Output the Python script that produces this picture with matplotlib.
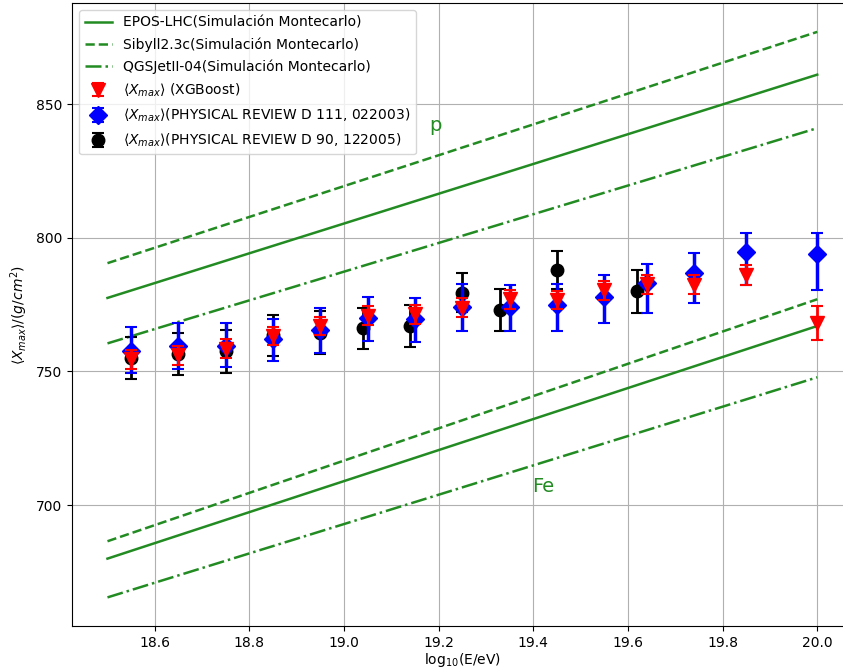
import matplotlib
matplotlib.use("Agg")
import matplotlib.pyplot as plt
import numpy as np

# Model lines (proton and iron), endpoints at log10(E/eV)
model_x = [18.5, 20.0]
epos_p = [777.5, 861.0]
sibyll_p = [790.5, 877.0]
qgs_p = [760.5, 841.0]
epos_fe = [680.0, 767.0]
sibyll_fe = [686.5, 777.0]
qgs_fe = [665.5, 747.8]

# XGBoost
xgb_x = [18.55, 18.65, 18.75, 18.85, 18.95, 19.05, 19.15, 19.25, 19.35, 19.45, 19.55, 19.64, 19.74, 19.85, 20.0]
xgb_y = [754.5, 756.0, 758.5, 763.3, 767.0, 770.8, 771.4, 773.9, 777.0, 776.7, 780.4, 782.6, 782.5, 786.0, 768.0]
xgb_err = [3.5, 3.5, 3.5, 3.5, 3.5, 3.5, 3.5, 3.5, 3.5, 3.5, 3.5, 3.5, 3.5, 3.7, 6.4]

# PRD 111, 022003
prd111_x = [18.55, 18.65, 18.75, 18.85, 18.95, 19.05, 19.15, 19.25, 19.35, 19.45, 19.55, 19.64, 19.74, 19.85, 20.0]
prd111_y = [757.5, 759.5, 759.5, 762.0, 765.5, 770.0, 769.5, 774.0, 774.0, 775.0, 778.0, 783.0, 787.0, 794.5, 794.0]
prd111_lo = [8.0, 8.5, 8.0, 8.0, 8.5, 8.5, 8.5, 9.0, 8.8, 9.8, 9.7, 11.0, 11.5, 12.3, 13.5]
prd111_hi = [9.2, 8.6, 8.7, 7.6, 8.4, 8.0, 8.1, 8.8, 8.2, 7.6, 8.0, 7.3, 7.4, 7.1, 7.6]

# PRD 90, 122005
prd90_x = [18.55, 18.65, 18.75, 18.85, 18.95, 19.04, 19.14, 19.25, 19.33, 19.45, 19.62]
prd90_y = [755.0, 756.5, 757.5, 763.5, 764.5, 766.2, 767.0, 779.5, 773.0, 788.0, 780.0]
prd90_err = [8.0, 7.7, 8.0, 7.7, 8.0, 7.7, 7.7, 7.2, 8.0, 7.0, 8.0]

fig = plt.figure(figsize=(8.43, 6.70), dpi=100)
ax = fig.add_axes([72/843, 1-626/670, (852.7-72)/843, (626-3)/670])

green = "forestgreen"
ax.plot(model_x, epos_p, color=green, lw=1.8, ls='-', label="EPOS-LHC(Simulación Montecarlo)")
ax.plot(model_x, sibyll_p, color=green, lw=1.8, ls='--', label="Sibyll2.3c(Simulación Montecarlo)")
ax.plot(model_x, qgs_p, color=green, lw=1.8, ls='-.', label="QGSJetII-04(Simulación Montecarlo)")
ax.plot(model_x, epos_fe, color=green, lw=1.8, ls='-')
ax.plot(model_x, sibyll_fe, color=green, lw=1.8, ls='--')
ax.plot(model_x, qgs_fe, color=green, lw=1.8, ls='-.')

h_black = ax.errorbar(prd90_x, prd90_y, yerr=prd90_err, fmt='o', color='black', ms=9,
                      elinewidth=2, capsize=4, capthick=1.5, zorder=3,
                      label=r"$\langle X_{max}\rangle$(PHYSICAL REVIEW D 90, 122005)")
h_blue = ax.errorbar(prd111_x, prd111_y, yerr=[prd111_lo, prd111_hi], fmt='D', color='blue', ms=9.5,
                     elinewidth=2.5, capsize=4, capthick=1.5, zorder=4,
                     label=r"$\langle X_{max}\rangle$(PHYSICAL REVIEW D 111, 022003)")
h_red = ax.errorbar(xgb_x, xgb_y, yerr=xgb_err, fmt='v', color='red', ms=10,
                    elinewidth=2, capsize=4, capthick=1.5, zorder=5,
                    label=r"$\langle X_{max}\rangle$ (XGBoost)")

ax.text(19.193, 842, "p", color=green, fontsize=14, ha='center', va='center')
ax.text(19.42, 707, "Fe", color=green, fontsize=14, ha='center', va='center')

ax.set_xlim(18.425, 20.075)
ax.set_ylim(654.8, 887.8)
ax.set_xticks([18.6, 18.8, 19.0, 19.2, 19.4, 19.6, 19.8, 20.0])
ax.set_yticks([700, 750, 800, 850])
ax.grid(True, color='#b0b0b0', lw=0.8)
ax.spines['right'].set_visible(False)

ax.set_xlabel(r"log$_{10}$(E/eV)", labelpad=1)
ax.set_ylabel(r"$\langle X_{max}\rangle/(g/cm^2)$")

handles, labels = ax.get_legend_handles_labels()
order = [0, 1, 2, 5, 4, 3]
ax.legend([handles[i] for i in order], [labels[i] for i in order], loc='upper left', fontsize=10,
          labelspacing=0.55)

fig.savefig("out.png", dpi=100)
